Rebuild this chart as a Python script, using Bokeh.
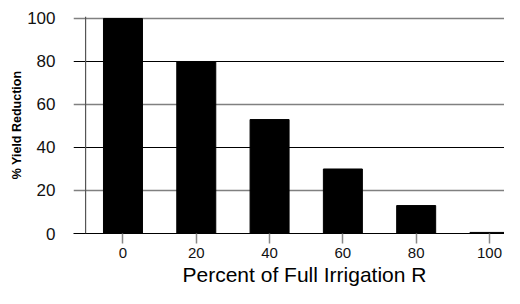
from bokeh.plotting import figure
from bokeh.models import FixedTicker, Grid, Range1d, Span, Title
from bokeh.embed import file_html
from bokeh.resources import INLINE

# Data
irrigation = [0, 20, 40, 60, 80, 100]
yield_reduction = [100, 80, 53, 30, 13, 0.5]
x_ticks = [0, 20, 40, 60, 80, 100]
y_ticks = [0, 20, 40, 60, 80, 100]
grey_grid = [20, 60, 100]
black_grid = [40, 80]
x_title = "Percent of Full Irrigation R"
y_title = "% Yield Reduction"

p = figure(width=504, height=288, output_backend="svg", toolbar_location=None,
           x_range=Range1d(-13.5, 104.1), y_range=Range1d(0, 100.93),
           min_border_left=73, min_border_right=0, min_border_top=16,
           min_border_bottom=55)
p.outline_line_color = None
p.background_fill_color = "white"
p.border_fill_color = "white"

# grids
p.xgrid.visible = False
p.ygrid.ticker = FixedTicker(ticks=grey_grid)
p.ygrid.grid_line_color = "#808080"
p.ygrid.grid_line_width = 1.5
g2 = Grid(dimension=1, ticker=FixedTicker(ticks=black_grid),
          grid_line_color="black", grid_line_width=1.2)
p.add_layout(g2)

# vertical axis line
axis_pos = -10.2
p.add_layout(Span(location=axis_pos, dimension="height", line_color="#555555",
                  line_width=1.2))

p.vbar(x=irrigation, top=yield_reduction, bottom=0, width=10.64,
       fill_color="black", line_color="black")

# y axis
ya = p.yaxis[0]
ya.ticker = FixedTicker(ticks=y_ticks)
ya.axis_line_color = None
ya.major_tick_line_color = None
ya.minor_tick_line_color = None
ya.major_label_standoff = 12
ya.major_label_text_font = "Liberation Sans"
ya.major_label_text_font_size = "17px"
ya.major_label_text_color = "#111111"
ya.axis_label = y_title
ya.axis_label_text_font = "Liberation Sans"
ya.axis_label_text_font_style = "bold"
ya.axis_label_text_font_size = "12.5px"
ya.axis_label_text_color = "black"
ya.axis_label_standoff = 0

# x axis
xa = p.xaxis[0]
xa.ticker = FixedTicker(ticks=x_ticks)
xa.axis_line_color = "black"
xa.axis_line_width = 1.2
xa.major_tick_out = 10
xa.major_tick_in = 0
xa.major_tick_line_color = "#888888"
xa.major_tick_line_width = 1.5
xa.minor_tick_line_color = None
xa.major_label_standoff = 4
xa.major_label_text_font = "Liberation Sans"
xa.major_label_text_font_size = "15px"
xa.major_label_text_color = "#111111"

# x axis title in the panel below the axis
p.add_layout(Title(text=x_title, align="left", offset=109, standoff=0,
                   text_font="Liberation Sans", text_font_size="21px",
                   text_font_style="normal", text_color="black"), "below")

open("out.html", "w").write(file_html(p, INLINE))
